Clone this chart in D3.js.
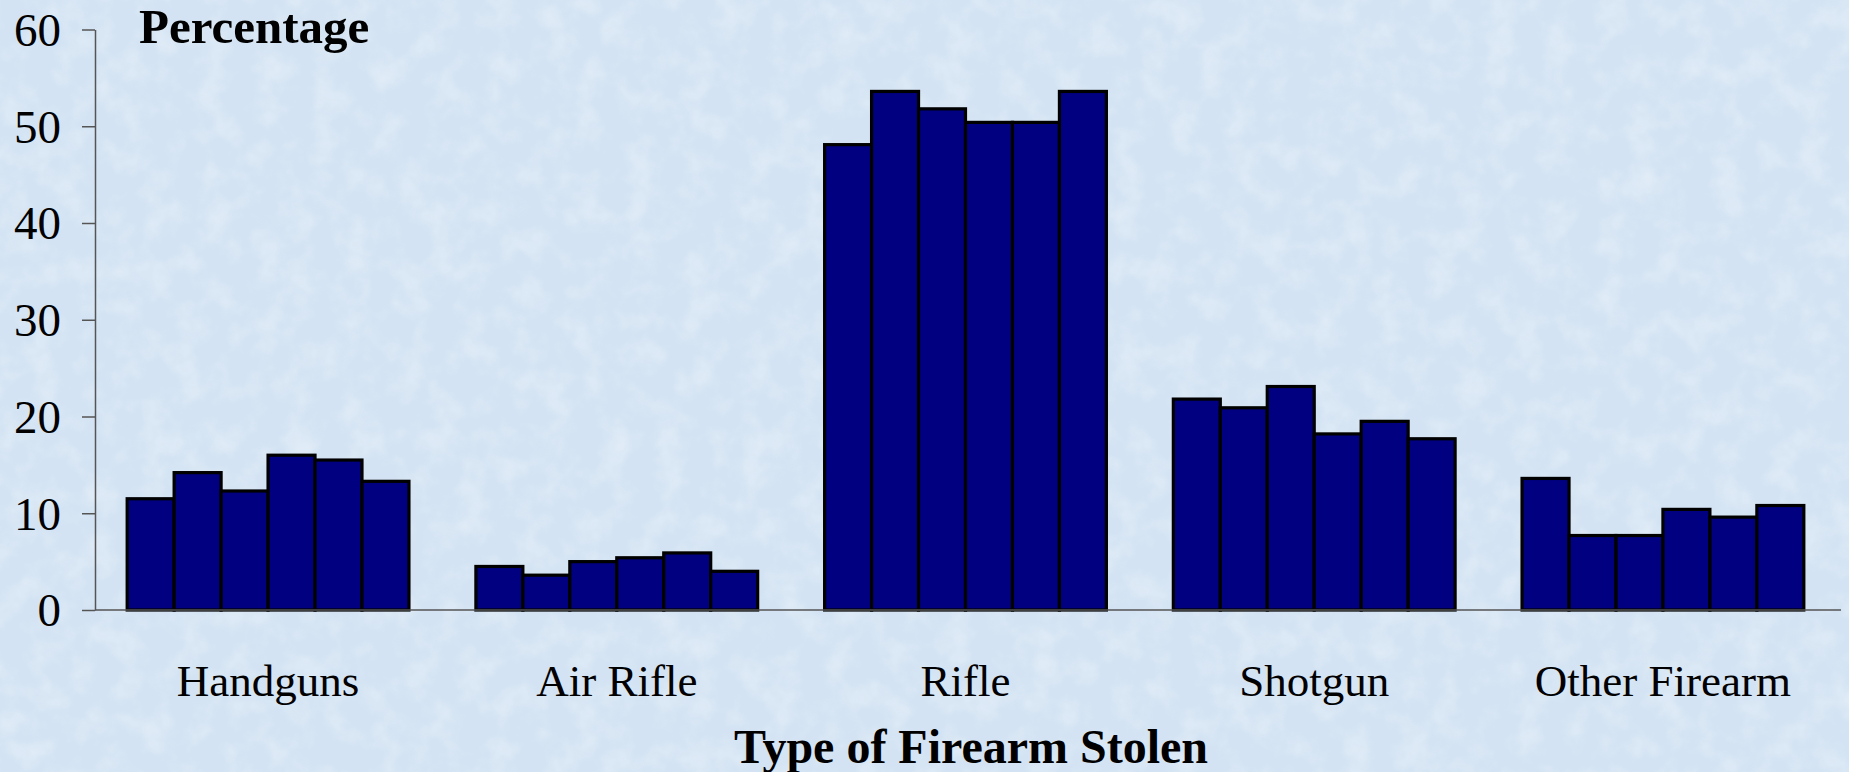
<!DOCTYPE html>
<html>
<head>
<meta charset="utf-8">
<script src="https://cdn.jsdelivr.net/npm/d3@7"></script>
<style>
  html, body { margin: 0; padding: 0; background: #d8e7f5; }
  svg { display: block; }
  text { font-family: "Liberation Serif", "Times New Roman", serif; }
</style>
</head>
<body>
<svg id="chart" width="1849" height="772"></svg>
<script>
// ---- Data ----
const categories = ["Handguns", "Air Rifle", "Rifle", "Shotgun", "Other Firearm"];
const seriesNames = ["s1", "s2", "s3", "s4", "s5", "s6"];
const series1 = [11.5, 4.5, 48.1, 21.8, 13.6];
const series2 = [14.2, 3.6, 53.6, 20.9, 7.7];
const series3 = [12.3, 5.0, 51.8, 23.1, 7.7];
const series4 = [16.0, 5.4, 50.4, 18.2, 10.4];
const series5 = [15.5, 5.9, 50.4, 19.5, 9.6];
const series6 = [13.3, 4.0, 53.6, 17.7, 10.8];
const yTicks = [0, 10, 20, 30, 40, 50, 60];
const yTitle = "Percentage";
const xTitle = "Type of Firearm Stolen";

const allSeries = [series1, series2, series3, series4, series5, series6];

// ---- Layout ----
const W = 1849, H = 772;
const mLeft = 95, mRight = 1841, mTop = 29.5, mBottom = 610;

const svg = d3.select("#chart");

// Background with subtle texture
const defs = svg.append("defs");
const f = defs.append("filter").attr("id", "tex").attr("x", 0).attr("y", 0).attr("width", "100%").attr("height", "100%");
f.append("feTurbulence").attr("type", "fractalNoise").attr("baseFrequency", 0.035).attr("numOctaves", 3).attr("seed", 4).attr("result", "n");
f.append("feColorMatrix").attr("in", "n").attr("type", "matrix")
  .attr("values", "0 0 0 0 1  0 0 0 0 1  0 0 0 0 1  0 0 0 1.1 -0.45");
svg.append("rect").attr("width", W).attr("height", H).attr("fill", "#d3e3f3");
svg.append("rect").attr("width", W).attr("height", H).attr("filter", "url(#tex)").attr("opacity", 0.55);

const x0 = d3.scaleBand().domain(categories).range([93, 1838]).paddingInner(0.192).paddingOuter(0.098);
const x1 = d3.scaleBand().domain(seriesNames).range([0, x0.bandwidth()]).padding(0);
const y = d3.scaleLinear().domain([0, 60]).range([mBottom, mTop]);

// Bars
const groups = svg.append("g").selectAll("g")
  .data(categories)
  .join("g")
  .attr("transform", d => `translate(${x0(d)},0)`);

groups.selectAll("rect")
  .data((c, ci) => seriesNames.map((s, si) => ({ s, v: allSeries[si][ci] })))
  .join("rect")
  .attr("x", d => x1(d.s))
  .attr("y", d => y(d.v))
  .attr("width", x1.bandwidth())
  .attr("height", d => y(0) - y(d.v))
  .attr("fill", "#000080")
  .attr("stroke", "#000")
  .attr("stroke-width", 3.2);

// Y axis
const yAxis = svg.append("g")
  .attr("transform", `translate(${mLeft},0)`)
  .call(d3.axisLeft(y).tickValues(yTicks).tickFormat(d3.format("d")).tickSize(13).tickSizeOuter(0).tickPadding(21));
yAxis.select(".domain").attr("stroke", "#555").attr("stroke-width", 1.5);
yAxis.selectAll(".tick line").attr("stroke", "#555").attr("stroke-width", 1.5);
yAxis.selectAll(".tick text")
  .attr("font-family", "'Liberation Serif', serif")
  .attr("font-size", 47)
  .attr("fill", "#000")
  .attr("dy", "0.34em");

// X axis
const xAxis = svg.append("g")
  .attr("transform", `translate(0,${mBottom})`)
  .call(d3.axisBottom(x0).tickSize(0).tickSizeOuter(0));
xAxis.select(".domain").attr("stroke", "#555").attr("stroke-width", 1.5)
  .attr("d", `M${mLeft},0H${mRight}`);
xAxis.selectAll(".tick text")
  .attr("font-family", "'Liberation Serif', serif")
  .attr("font-size", 45)
  .attr("fill", "#000")
  .attr("y", 86)
  .attr("dy", 0);

// Titles
svg.append("text")
  .attr("x", 139).attr("y", 43)
  .attr("font-size", 49).attr("font-weight", "bold")
  .attr("fill", "#000")
  .text(yTitle);

svg.append("text")
  .attr("x", 971).attr("y", 763)
  .attr("text-anchor", "middle")
  .attr("font-size", 48).attr("font-weight", "bold")
  .attr("fill", "#000")
  .text(xTitle);
</script>
</body>
</html>
